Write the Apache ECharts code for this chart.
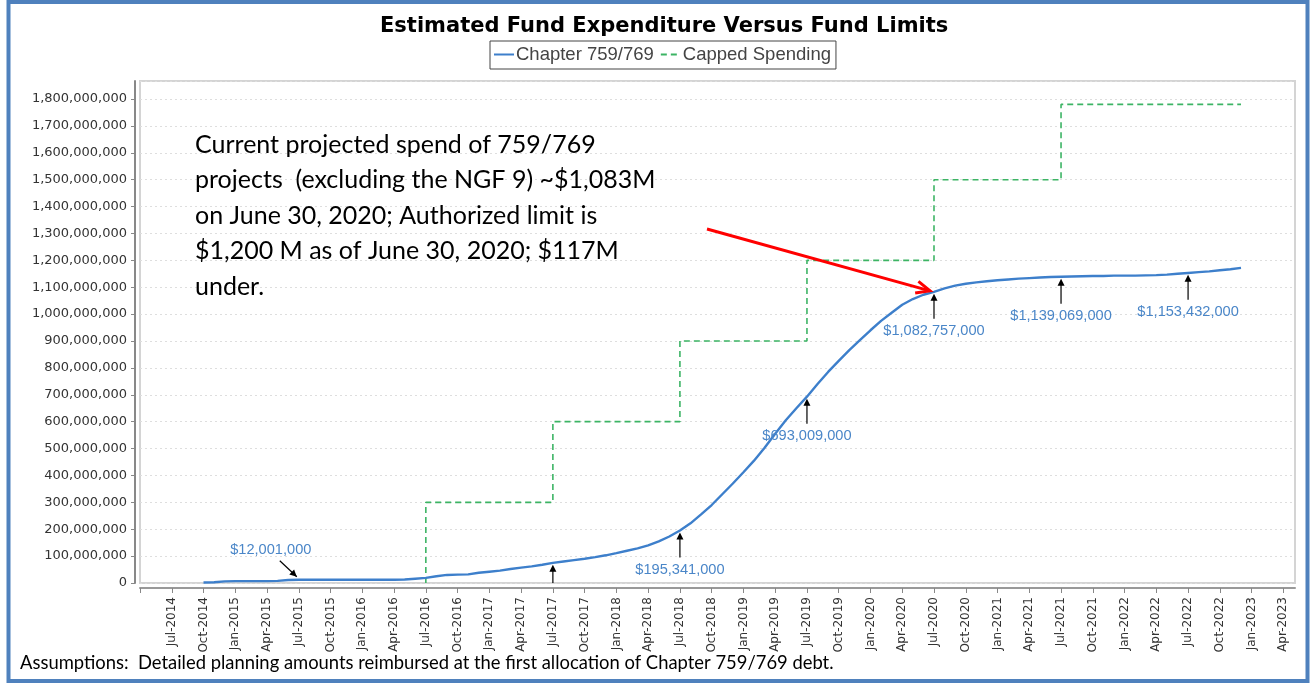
<!DOCTYPE html>
<html>
<head>
<meta charset="utf-8">
<script src="https://cdn.jsdelivr.net/npm/echarts@6/dist/echarts.min.js"></script>
<style>
html,body{margin:0;padding:0;background:#fff;}
#chart{width:1310px;height:683px;}
</style>
</head>
<body>
<div id="chart"></div>
<script>
// ---------- DATA ----------
const tickLabels = ['Jul-2014','Oct-2014','Jan-2015','Apr-2015','Jul-2015','Oct-2015','Jan-2016','Apr-2016',
  'Jul-2016','Oct-2016','Jan-2017','Apr-2017','Jul-2017','Oct-2017','Jan-2018','Apr-2018',
  'Jul-2018','Oct-2018','Jan-2019','Apr-2019','Jul-2019','Oct-2019','Jan-2020','Apr-2020',
  'Jul-2020','Oct-2020','Jan-2021','Apr-2021','Jul-2021','Oct-2021','Jan-2022','Apr-2022',
  'Jul-2022','Oct-2022','Jan-2023','Apr-2023'];
const yTickValues = [0,100,200,300,400,500,600,700,800,900,1000,1100,1200,1300,1400,1500,1600,1700,1800]; // millions

// Chapter 759/769 spend (millions), monthly from Oct-2014 to Dec-2022
const spendStart = '2014-10';
const spendValues = [
  2, 3, 6,                                              // 2014 Oct-Dec
  7, 7, 7, 7, 8, 11, 12, 12, 12, 12, 12, 12,            // 2015
  12, 12, 12, 12, 13, 16, 19, 25, 30, 31, 32, 38,       // 2016
  42, 46, 52, 57, 62, 68, 75, 80, 85, 90, 96, 103,      // 2017
  111, 120, 129, 140, 155, 173, 195, 222, 255, 290, 330, 370,   // 2018
  412, 455, 503, 555, 605, 650, 693, 740, 785, 826, 866, 903,   // 2019
  940, 975, 1005, 1035, 1056, 1072, 1083, 1096, 1106, 1113, 1118, 1122, // 2020
  1126, 1129, 1132, 1134, 1136, 1138, 1139, 1140, 1141, 1142, 1142, 1143, // 2021
  1143, 1143, 1144, 1145, 1147, 1150, 1153, 1156, 1159, 1163, 1167, 1172  // 2022
];

// Capped spending steps (millions)
const capDates  = ['2016-07','2016-07','2017-07','2018-07','2019-07','2020-07','2021-07','2022-12'];
const capValues = [0, 300, 600, 900, 1200, 1500, 1780, 1780];

// Annotations on the spend line
const annotDates  = ['2015-07','2017-07','2018-07','2019-07','2020-07','2021-07','2022-07'];
const annotValues = [12.001, 75, 195.341, 693.009, 1082.757, 1139.069, 1153.432];
const annotLabels = ['$12,001,000','','$195,341,000','$693,009,000','$1,082,757,000','$1,139,069,000','$1,153,432,000'];

// ---------- HELPERS ----------
function monthIndex(s){ const p = s.split('-'); return (+p[0]-2014)*12 + (+p[1]-1); }
const spendData = spendValues.map((v,i)=>[monthIndex(spendStart)+i, v]);
const capData = capDates.map((d,i)=>[monthIndex(d), capValues[i]]);
const annotData = annotDates.map((d,i)=>[monthIndex(d), annotValues[i], i]);

const firstTick = monthIndex('2014-07');
function fmtNum(n){ return Math.round(n).toString().replace(/\B(?=(\d{3})+(?!\d))/g, ','); }

const chart = echarts.init(document.getElementById('chart'), null, {renderer:'canvas'});

const labelColor = '#4a86c8';
const annotFont = '14.6px "Liberation Sans", Arial, sans-serif';

function renderAnnot(params, api){
  const i = api.value(2);
  const p = api.coord([api.value(0), api.value(1)]);
  const children = [];
  if (i === 0) {
    const x1 = p[0]-19, y1 = p[1]-19, x2 = p[0]-2, y2 = p[1]-3;
    children.push({type:'line', shape:{x1:x1,y1:y1,x2:x2,y2:y2}, style:{stroke:'#000', lineWidth:1.2}});
    const ang = Math.atan2(y2-y1, x2-x1);
    const L = 7, W = 3.5;
    const bx = x2 - L*Math.cos(ang), by = y2 - L*Math.sin(ang);
    children.push({type:'polygon', shape:{points:[[x2,y2],[bx - W*Math.sin(ang), by + W*Math.cos(ang)],[bx + W*Math.sin(ang), by - W*Math.cos(ang)]]}, style:{fill:'#000'}});
    children.push({type:'text', x:p[0]-28, y:p[1]-30, style:{text:annotLabels[i], font:annotFont, fill:labelColor, align:'center', verticalAlign:'middle'}});
  } else {
    const tip = p[1]+2;
    children.push({type:'line', shape:{x1:p[0], y1:tip+4, x2:p[0], y2:p[1]+27}, style:{stroke:'#000', lineWidth:1.2}});
    children.push({type:'polygon', shape:{points:[[p[0],tip],[p[0]-3.5,tip+7],[p[0]+3.5,tip+7]]}, style:{fill:'#000'}});
    if (annotLabels[i]) {
      children.push({type:'text', x:p[0], y:p[1]+39, style:{text:annotLabels[i], font:annotFont, fill:labelColor, align:'center', verticalAlign:'middle'}});
    }
  }
  return {type:'group', children:children};
}

const option = {
  animation:false,
  backgroundColor:'#fff',
  title:{
    text:'Estimated Fund Expenditure Versus Fund Limits',
    left:375, top:11,
    textStyle:{fontFamily:'"DejaVu Sans", Verdana, sans-serif', fontWeight:'bold', fontSize:21, color:'#000'}
  },
  legend:{
    data:['Chapter 759/769','Capped Spending'],
    left:490, top:41,
    itemWidth:20, itemHeight:12, itemGap:6,
    padding:[4,5,5,3],
    itemStyle:{opacity:0},
    borderColor:'#444', borderWidth:1,
    textStyle:{fontFamily:'"Liberation Sans", Arial, sans-serif', fontSize:18.5, color:'#444', padding:[0,0,0,-3]}
  },
  grid:{left:140, right:15, top:81, bottom:100, show:true, borderColor:'#d4d4d4', borderWidth:2, backgroundColor:'#fff'},
  xAxis:{
    type:'value', min:3, max:112.1, interval:3,
    offset:5,
    axisLine:{show:true, onZero:false, lineStyle:{color:'#999', width:2}},
    axisTick:{show:true, length:5, lineStyle:{color:'#888'}},
    splitLine:{show:false},
    axisLabel:{
      rotate:90, margin:9,
      fontFamily:'"DejaVu Sans", Verdana, sans-serif', fontSize:12, color:'#333',
      showMaxLabel:false,
      formatter:function(v){
        const k = (v - firstTick)/3;
        if (k < 0 || Math.abs(k-Math.round(k))>1e-6) return '';
        return tickLabels[Math.round(k)] || '';
      }
    }
  },
  yAxis:{
    type:'value', min:0, max:1867, interval:100,
    offset:5,
    axisLine:{show:true, lineStyle:{color:'#888', width:2}},
    axisTick:{show:true, length:4, lineStyle:{color:'#888'}},
    splitLine:{show:true, lineStyle:{color:'#dedede', type:[2,3], width:1}},
    axisLabel:{
      margin:8, showMaxLabel:false,
      fontFamily:'"DejaVu Sans", Verdana, sans-serif', fontSize:13, color:'#333',
      formatter:function(v){
        if (yTickValues.indexOf(v) < 0) return '';
        return fmtNum(v*1e6);
      }
    }
  },
  series:[
    {
      name:'Capped Spending', type:'line', step:'end', data:capData,
      symbol:'none', z:3,
      lineStyle:{color:'#3cb464', width:1.6, type:[6,4]},
      itemStyle:{color:'#3cb464'}
    },
    {
      name:'Chapter 759/769', type:'line', data:spendData,
      symbol:'none', z:4,
      lineStyle:{color:'#3d7fcb', width:2.4},
      itemStyle:{color:'#3d7fcb'}
    },
    {
      name:'annotations', type:'custom', data:annotData, renderItem:renderAnnot, z:5, clip:true,
      encode:{x:0, y:1}
    }
  ]
};
chart.setOption(option);

// Free annotations (text box, red pointer, footnote, frame)
const target = chart.convertToPixel({gridIndex:0}, [monthIndex('2020-07'), 1082.757]);
const sx = 707, sy = 229;
const tx = target[0]-4, ty = target[1]-1;
const ang = Math.atan2(ty-sy, tx-sx);
const hl = 15, ha = 0.42;
chart.setOption({
  graphic:[
    {type:'rect', id:'frame', shape:{x:8.5, y:2, width:1299, height:679}, style:{fill:null, stroke:'#4f81bd', lineWidth:4}, silent:true, z:100},
    {type:'text', id:'note', left:195, top:127, style:{
      text:'Current projected spend of 759/769\nprojects  (excluding the NGF 9) ~$1,083M\non June 30, 2020; Authorized limit is\n$1,200 M as of June 30, 2020; $117M\nunder.',
      font:'25px Lato, "Open Sans", sans-serif', fill:'#000', lineHeight:35.5}, z:100},
    {type:'line', id:'redline', shape:{x1:sx, y1:sy, x2:tx, y2:ty}, style:{stroke:'#ff0000', lineWidth:3}, z:100},
    {type:'polyline', id:'redhead', shape:{points:[
      [tx - hl*Math.cos(ang-ha), ty - hl*Math.sin(ang-ha)], [tx, ty], [tx - hl*Math.cos(ang+ha), ty - hl*Math.sin(ang+ha)]
    ]}, style:{stroke:'#ff0000', lineWidth:3, fill:null}, z:100},
    {type:'text', id:'foot', left:20, top:654, style:{
      text:'Assumptions:  Detailed planning amounts reimbursed at the first allocation of Chapter 759/769 debt.',
      font:'18.4px Lato, "Open Sans", sans-serif', fill:'#000'}, z:100}
  ]
});
</script>
</body>
</html>
